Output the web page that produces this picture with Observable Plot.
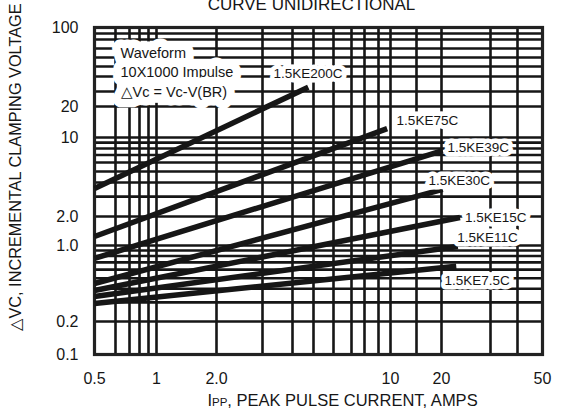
<!DOCTYPE html>
<html><head><meta charset="utf-8">
<script src="https://cdn.jsdelivr.net/npm/d3@7"></script>
<script src="https://cdn.jsdelivr.net/npm/@observablehq/plot@0.6"></script>
<style>
html,body{margin:0;padding:0;background:#fff;}
#chart svg{display:block;}
</style></head><body><div id="chart"></div>
<script>
// ---- data ----
const series = ["1.5KE200C","1.5KE75C","1.5KE39C","1.5KE30C","1.5KE15C","1.5KE11C","1.5KE7.5C"];
const startCurrent = [0.5, 0.5, 0.5, 0.5, 0.5, 0.5, 0.5];
const startVoltage = [3.54, 1.24, 0.76, 0.447, 0.386, 0.34, 0.293];
const endCurrent   = [4.73, 9.71, 20.2, 20.2, 23.3, 22.9, 22.6];
const endVoltage   = [32.6, 12.2, 7.67, 3.47, 1.95, 0.98, 0.645];
const labelCurrent = [3.33, 11.0, 21.0, 17.2, 24.3, 22.8, 20.5];
const labelVoltage = [42.8, 14.6, 8.15, 4.17, 1.95, 1.21, 0.477];

const xTicks = [0.5, 1, 2, 10, 20, 50];
const xTickLabels = ["0.5", "1", "2.0", "10", "20", "50"];
const yTicks = [0.1, 0.2, 1, 2, 10, 20, 100];
const yTickLabels = ["0.1", "0.2", "1.0", "2.0", "10", "20", "100"];
const xGridValues = [0.5,0.6,0.7,0.8,0.9,1,2,3,4,5,6,7,8,9,10,15,20,30,40,50];
const yGridValues = [0.1,0.2,0.3,0.4,0.5,0.6,0.7,0.8,0.9,1,2,3,4,5,6,7,8,9,10,20,30,40,50,60,70,80,90,100];

const legendLines = ["Waveform", "10X1000 Impulse", "\u25B3Vc = Vc-V(BR)"];
const legendCurrent = [0.634, 0.634, 0.634];
const legendVoltage = [64.3, 43.7, 29.2];

const title = "CURVE UNIDIRECTIONAL";
const yLabel = "\u25B3VC, INCREMENTAL CLAMPING VOLTAGE";
const xLabel = "IPP, PEAK PULSE CURRENT, AMPS";

// ---- build tables ----
const rows = series.flatMap((s, i) => [
  {s, I: startCurrent[i], V: startVoltage[i]},
  {s, I: endCurrent[i], V: endVoltage[i]}
]);
const labels = series.map((s, i) => ({s, I: labelCurrent[i], V: labelVoltage[i]}));
const legend = legendLines.map((t, i) => ({t, I: legendCurrent[i], V: legendVoltage[i]}));
const xTickRows = xTicks.map((d, i) => ({d, t: xTickLabels[i]}));
const yFmt = new Map(yTicks.map((d, i) => [d, yTickLabels[i]]));

// piecewise log scales calibrated to the (slightly distorted) printed grid
const xScale = {
  type: "log",
  axis: null,
  domain: [0.5,0.6,0.7,0.8,0.9,1,2,3,4,5,6,7,8,9,10,15,20,30,40,50],
  range:  [94,115,129,139,148,156,216,262,292,313,333,351,364,378,390,416,441,490,517,542]
};
const yScale = {
  type: "log",
  domain: [0.1,0.2,1,2,10,20,30,40,50,60,70,80,90,100],
  range:  [354,321,245,216,137,106,91,76,66,57,48,39,33,27]
};

const ink = "#161616";
const font = "'Liberation Sans', Arial, Helvetica, sans-serif";

const chart = Plot.plot({
  width: 568,
  height: 412,
  marginTop: 27,
  marginBottom: 58,
  marginLeft: 94,
  marginRight: 26,
  style: {fontFamily: font, fontSize: "16px", color: ink, background: "#fff"},
  x: xScale,
  y: yScale,
  marks: [
    Plot.ruleX(xGridValues, {stroke: ink, strokeWidth: 2.6}),
    Plot.ruleY(yGridValues, {stroke: ink, strokeWidth: 2.6}),
    Plot.frame({stroke: "#222", strokeWidth: 3.2}),
    Plot.line(rows, {x: "I", y: "V", z: "s", stroke: ink, strokeWidth: 5.5, strokeLinecap: "butt"}),
    Plot.text(labels, {x: "I", y: "V", text: "s", textAnchor: "start", fontSize: 13.5,
      fill: ink, stroke: "white", strokeWidth: 9, paintOrder: "stroke", strokeLinejoin: "round"}),
    Plot.text(legend, {x: "I", y: "V", text: "t", textAnchor: "start", fontSize: 14.5,
      fill: ink, stroke: "white", strokeWidth: 17, paintOrder: "stroke", strokeLinejoin: "round"}),
    // x tick labels (drawn as text through the x scale so the end ticks are kept)
    Plot.text(xTickRows, {x: "d", text: "t", frameAnchor: "bottom", textAnchor: "middle",
      lineAnchor: "middle", dy: 24, fontSize: 16, fill: ink}),
    Plot.axisY(yTicks, {tickSize: 0, tickPadding: 16, fontSize: 16, label: null,
      tickFormat: d => yFmt.get(d), fill: ink}),
    Plot.text([title], {frameAnchor: "top", textAnchor: "middle", dx: -7, dy: -18, lineAnchor: "bottom", fontSize: 17, fill: ink}),
    Plot.text([yLabel], {frameAnchor: "left", textAnchor: "middle", rotate: -90, dx: -79, dy: -24, fontSize: 16.3, fill: ink}),
    Plot.text([xLabel], {frameAnchor: "bottom", textAnchor: "middle", dx: 24, dy: 46, lineAnchor: "middle", fontSize: 16.5, fill: ink})
  ]
});

// smaller "PP" part of the x label, as in the reference
for (const t of chart.querySelectorAll("text")) {
  if (t.textContent === xLabel) {
    t.textContent = "";
    const ns = "http://www.w3.org/2000/svg";
    const a = document.createElementNS(ns, "tspan"); a.textContent = "I";
    const b = document.createElementNS(ns, "tspan"); b.textContent = "PP"; b.setAttribute("font-size", "11.5");
    const c = document.createElementNS(ns, "tspan"); c.textContent = ", PEAK PULSE CURRENT, AMPS";
    t.append(a, b, c);
  }
}
document.getElementById("chart").append(chart);
</script>
</body></html>
